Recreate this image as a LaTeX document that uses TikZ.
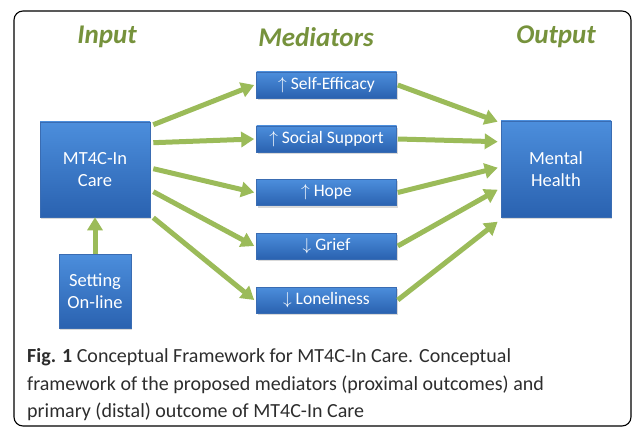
\documentclass[tikz,border=0pt]{standalone}
\usepackage{fontspec}
\setmainfont{Carlito}
\usetikzlibrary{arrows.meta,positioning,calc,shadows}

\definecolor{boxtop}{RGB}{76,142,220}
\definecolor{boxbot}{RGB}{42,98,176}
\definecolor{boxline}{RGB}{58,108,178}
\definecolor{flowgreen}{RGB}{155,187,89}
\definecolor{headgreen}{RGB}{118,146,60}
\definecolor{captext}{RGB}{45,45,45}

\tikzset{
  bluebox/.style={draw=boxline, line width=0.6pt, top color=boxtop, bottom color=boxbot,
    text=white, align=center, inner sep=0pt,
    drop shadow={opacity=0.3, shadow xshift=1pt, shadow yshift=-2pt}},
  bigbox/.style={bluebox, font=\fontsize{18.5}{22}\selectfont},
  medbox/.style={bluebox, minimum width=140pt, minimum height=26pt,
    font=\fontsize{17.5}{20}\selectfont},
  flow/.style={line width=5pt, flowgreen, -{Triangle[length=13pt,width=15pt]}},
  head/.style={headgreen, font=\fontsize{27}{30}\selectfont\bfseries\itshape},
  caption/.style={captext, anchor=base west, inner sep=0pt, font=\fontsize{20}{24}\selectfont}
}

\begin{document}
\begin{tikzpicture}[x=1pt,y=-1pt]
\useasboundingbox (0,0) rectangle (633,428);
% Outer frame
\draw[line width=1.1pt, rounded corners=9pt] (14,11) rectangle (631,426);
% Column headings
\node[head] (hin) at (107,37) {Input};
\node[head] (hmed) at (316,37) {Mediators};
\node[head] (hout) at (556,37) {Output};
% Input, setting and outcome boxes
\node[bigbox, minimum width=110pt, minimum height=95pt] (care) at (95,169.5) {MT4C-In\\Care};
\node[bigbox, minimum width=72pt, minimum height=74pt] (setting) at (95,291) {Setting\\On-line};
\node[bigbox, minimum width=110pt, minimum height=96pt] (mh) at (556,169) {Mental\\Health};
% Mediator boxes
\foreach \i/\y/\t in {1/85/{$\uparrow$ Self-Efficacy},2/139/{$\uparrow$ Social Support},
    3/192.5/{$\uparrow$ Hope},4/246/{$\downarrow$ Grief},5/300/{$\downarrow$ Loneliness}} {
  \node[medbox] (m\i) at (326.5,\y) {\t};
}
% Arrows
\draw[flow] (setting.north) -- (care.south);
\foreach \i/\dy in {1/3,2/21,3/47,4/70,5/96} {
  \draw[flow] ($(care.north east)+(3,\dy)$) -- ($(m\i.west)+(-2,0)$);
}
\foreach \i/\dy in {1/1,2/21,3/47,4/69,5/101} {
  \draw[flow] ($(m\i.east)+(1,0)$) -- ($(mh.north west)+(-3,\dy)$);
}
% Caption
\node[caption] (cap1) at (27,362) {\textbf{Fig. 1} Conceptual Framework for MT4C-In Care. Conceptual};
\node[caption] (cap2) at (27,390) {framework of the proposed mediators (proximal outcomes) and};
\node[caption] (cap3) at (27,417) {primary (distal) outcome of MT4C-In Care};
\end{tikzpicture}
\end{document}
